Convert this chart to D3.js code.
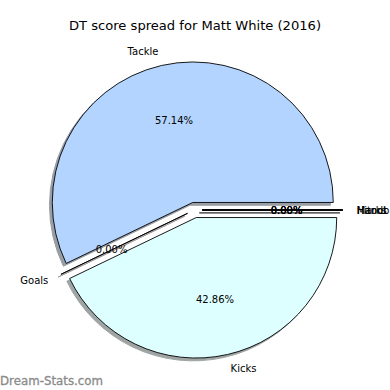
<!DOCTYPE html>
<html>
<head>
<meta charset="utf-8">
<script src="https://d3js.org/d3.v7.min.js"></script>
<style>
  body { margin: 0; background: #fff; }
  text { font-family: "DejaVu Sans", sans-serif; }
</style>
</head>
<body>
<script>
// DT score breakdown, zero categories end up stacked at 3 o'clock
var categories = ["Tackle", "Goals", "Kicks", "Marks", "Handball", "Hitout"];
var scores = [16, 0, 12, 0, 0, 0];
var colours = ["#b3d4ff", "#ffc0cb", "#ddffff", "#ffffcc", "#ccffcc", "#e6ccff"];
var title = "DT score spread for Matt White (2016)";

var width = 390, height = 390;
var cx = 194.5, cy = 210, radius = 140.5;
var explode = 0.055;

var svg = d3.select("body").append("svg")
  .attr("width", width)
  .attr("height", height);

var total = d3.sum(scores);
var fmt = d3.format(".2f");

// matplotlib style: start at 3 o'clock, go counter-clockwise
var pie = d3.pie().sort(null)
  .startAngle(Math.PI / 2)
  .endAngle(Math.PI / 2 - 2 * Math.PI);

var arcs = pie(scores);
var arc = d3.arc().innerRadius(0).outerRadius(radius);

function dir(d) {
  var a = (d.startAngle + d.endAngle) / 2;
  return [Math.sin(a), -Math.cos(a)];
}

function dark(i) {
  var c = d3.rgb(colours[i]);
  return d3.rgb(c.r * 0.3, c.g * 0.3, c.b * 0.3);
}

// shadows first, under everything
var shadows = svg.append("g");
shadows.selectAll("path")
  .data(arcs)
  .enter().append("path")
  .attr("transform", function(d) {
    var v = dir(d);
    return "translate(" + (cx + v[0] * explode * radius - 0.02 * radius) + "," + (cy + v[1] * explode * radius + 0.02 * radius) + ")";
  })
  .attr("d", arc)
  .attr("fill", function(d, i) { return dark(i); })
  .attr("stroke", function(d, i) { return dark(i); })
  .attr("opacity", 0.5);

var wedges = svg.append("g");
wedges.selectAll("path")
  .data(arcs)
  .enter().append("path")
  .attr("transform", function(d) {
    var v = dir(d);
    return "translate(" + (cx + v[0] * explode * radius) + "," + (cy + v[1] * explode * radius) + ")";
  })
  .attr("d", arc)
  .attr("fill", function(d, i) { return colours[i]; })
  .attr("stroke", "#000")
  .attr("stroke-width", 0.9)
  .attr("stroke-linejoin", "round");

// category labels at 1.1 r
svg.append("g").selectAll("text")
  .data(arcs)
  .enter().append("text")
  .attr("x", function(d) { var v = dir(d); return cx + v[0] * explode * radius + v[0] * 1.1 * radius; })
  .attr("y", function(d) { var v = dir(d); return cy + v[1] * explode * radius + v[1] * 1.1 * radius; })
  .attr("dy", "0.35em")
  .attr("text-anchor", function(d) { return dir(d)[0] > 0 ? "start" : "end"; })
  .attr("font-size", "10px")
  .attr("fill", "#000")
  .text(function(d, i) { return categories[i]; });

// percentages at 0.6 r
svg.append("g").selectAll("text")
  .data(arcs)
  .enter().append("text")
  .attr("x", function(d) { var v = dir(d); return cx + v[0] * explode * radius + v[0] * 0.6 * radius; })
  .attr("y", function(d) { var v = dir(d); return cy + v[1] * explode * radius + v[1] * 0.6 * radius; })
  .attr("dy", "0.35em")
  .attr("text-anchor", "middle")
  .attr("font-size", "10px")
  .attr("fill", "#000")
  .text(function(d) { return fmt(d.data / total * 100) + "%"; });

svg.append("text")
  .attr("x", 195)
  .attr("y", 29.5)
  .attr("text-anchor", "middle")
  .attr("font-size", "13.1px")
  .attr("fill", "#000")
  .text(title);

svg.append("text")
  .attr("x", 0)
  .attr("y", 385)
  .attr("font-size", "11.8px")
  .attr("fill", "#8a8a8a")
  .attr("stroke", "#8a8a8a")
  .attr("stroke-width", 0.3)
  .text("Dream-Stats.com");
</script>
</body>
</html>
